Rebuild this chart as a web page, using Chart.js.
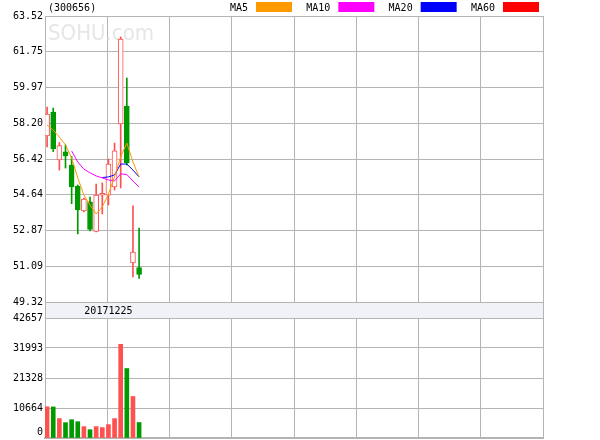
<!DOCTYPE html>
<html>
<head>
<meta charset="utf-8">
<script src="https://cdn.jsdelivr.net/npm/chart.js@4.4.0/dist/chart.umd.min.js"></script>
<style>
  html, body { margin: 0; padding: 0; background: #fff; }
</style>
</head>
<body>
<canvas id="kline" width="600" height="440"></canvas>
<script>
// ---- data ----
const stockCode = '(300656)';
const bandDate = '20171225';
const bandIndex = 10;

const openP  = [57.56, 58.75, 56.37, 56.77, 56.12, 55.08, 53.84, 54.29, 52.82, 54.63, 54.63, 55.03, 58.16, 59.05, 51.26, 51.03];
const highP  = [59.00, 58.95, 57.24, 57.12, 56.55, 55.13, 54.48, 54.53, 55.18, 55.23, 56.42, 57.21, 62.48, 60.44, 54.10, 52.99];
const lowP   = [57.02, 56.79, 55.87, 55.97, 54.20, 52.70, 53.79, 52.85, 52.80, 53.69, 54.14, 54.88, 54.98, 56.12, 50.56, 50.49];
const closeP = [58.65, 56.92, 57.09, 56.57, 55.03, 53.89, 54.43, 52.92, 54.63, 54.71, 56.17, 56.82, 62.38, 56.22, 51.80, 50.69];
const volume = [11100, 11050, 6900, 5450, 6500, 5800, 4050, 2950, 4050, 3700, 4750, 6900, 33300, 24700, 14750, 5500];

const ma5  = [58.10, 57.85, 57.51, 57.12, 56.47, 55.48, 54.63, 54.14, 53.69, 54.04, 54.68, 55.53, 56.52, 57.21, 56.27, 55.53];
const ma10 = [null, null, null, null, 56.82, 56.27, 55.92, 55.73, 55.58, 55.48, 55.38, 55.33, 55.68, 55.65, 55.33, 55.03];
const ma20 = [null, null, null, null, null, null, null, null, null, 55.50, 55.53, 55.63, 56.17, 56.17, 55.87, 55.53];
const ma60 = [null, null, null, null, null, null, null, null, null, null, null, null, null, null, null, null];

const maNames  = ['MA5', 'MA10', 'MA20', 'MA60'];
const maColors = ['#ff9900', '#ff00ff', '#0000ff', '#ff0000'];

const priceTicks = [49.32, 51.09, 52.87, 54.64, 56.42, 58.20, 59.97, 61.75, 63.52];
const volTicks   = [0, 10664, 21328, 31993, 42657];

// ---- styling ----
const gridColor = '#b4b4b4';
const upColor = '#ff5050';
const downColor = '#009900';
const monoFont = '"DejaVu Sans Mono", monospace';

Chart.defaults.font.family = monoFont;
Chart.defaults.font.size = 10;
Chart.defaults.color = '#000';

const isUp = openP.map((o, i) => closeP[i] >= o);
const xMin = -0.342, xMax = 80.86;

// y axes: fixed width, no extra room for half labels
const fitY = s => { s.width = 45; s.paddingTop = 0; s.paddingBottom = 0; };

const decor = {
  id: 'decor',
  beforeDatasetsDraw(chart) {
    const { ctx, chartArea, scales } = chart;
    const band = scales.yBand;
    ctx.save();
    // watermark
    ctx.save();
    ctx.fillStyle = '#e6e6e6';
    ctx.font = '22px "DejaVu Sans"';
    ctx.textBaseline = 'middle';
    ctx.translate(48, 34);
    ctx.scale(0.9, 1);
    ctx.fillText('SOHU.com', 0, 0);
    ctx.restore();
    // date band
    ctx.fillStyle = '#f0f2f7';
    ctx.fillRect(chartArea.left, band.top, chartArea.width, band.bottom - band.top);
    ctx.strokeStyle = gridColor;
    ctx.lineWidth = 1;
    ctx.strokeRect(chartArea.left + 0.5, band.top + 0.5, chartArea.width, band.bottom - band.top);
    ctx.fillStyle = '#000';
    ctx.font = '10px ' + monoFont;
    ctx.textAlign = 'center';
    ctx.textBaseline = 'middle';
    ctx.fillText(bandDate, scales.x.getPixelForValue(bandIndex), (band.top + band.bottom) / 2 + 1);
    ctx.restore();
  },
  afterDraw(chart) {
    const { ctx } = chart;
    ctx.save();
    ctx.font = '10px ' + monoFont;
    ctx.fillStyle = '#000';
    ctx.textBaseline = 'middle';
    ctx.fillText(stockCode, 48, 8);
    maNames.forEach((name, k) => {
      const sx = 256 + 82.33 * k;
      ctx.fillStyle = '#000';
      ctx.textAlign = 'right';
      ctx.fillText(name, sx - 8, 8);
      ctx.fillStyle = maColors[k];
      ctx.fillRect(sx, 2, 36, 10);
    });
    ctx.restore();
  }
};

const idx = openP.map((_, i) => i);

new Chart(document.getElementById('kline'), {
  type: 'bar',
  data: {
    datasets: [
      ...[ma5, ma10, ma20, ma60].map((arr, k) => ({
        type: 'line',
        label: maNames[k],
        data: idx.map(i => ({ x: i, y: arr[i] })),
        borderColor: maColors[k],
        borderWidth: 1,
        pointRadius: 0,
        tension: 0,
        xAxisID: 'x', yAxisID: 'y',
        order: 0
      })),
      {
        label: 'body',
        data: idx.map(i => ({ x: i, y: [openP[i], closeP[i]] })),
        backgroundColor: isUp.map(u => u ? '#ffffff' : downColor),
        borderColor: isUp.map(u => u ? upColor : downColor),
        borderWidth: 1,
        borderSkipped: false,
        barThickness: 5,
        grouped: false,
        xAxisID: 'x', yAxisID: 'y',
        order: 1
      },
      {
        label: 'wick',
        data: idx.map(i => ({ x: i, y: [lowP[i], highP[i]] })),
        backgroundColor: isUp.map(u => u ? upColor : downColor),
        borderWidth: 0,
        barThickness: 1,
        grouped: false,
        xAxisID: 'x', yAxisID: 'y',
        order: 2
      },
      {
        label: 'volume',
        data: idx.map(i => ({ x: i, y: volume[i] })),
        backgroundColor: isUp.map(u => u ? upColor : downColor),
        borderWidth: 0,
        barThickness: 4,
        grouped: false,
        xAxisID: 'x', yAxisID: 'yVol',
        order: 3
      }
    ]
  },
  options: {
    responsive: false,
    animation: false,
    layout: { padding: { top: 16, right: 57, bottom: 2, left: 0 } },
    plugins: { legend: { display: false }, tooltip: { enabled: false } },
    scales: {
      x: {
        type: 'linear', min: xMin, max: xMax, offset: false,
        afterBuildTicks: s => { s.ticks = [0, 1, 2, 3, 4, 5, 6, 7, 8].map(k => ({ value: xMin + k * (xMax - xMin) / 8 })); },
        afterFit: s => { s.height = 0; s.paddingLeft = 0; s.paddingRight = 0; },
        grid: { color: gridColor, drawTicks: false, offset: false },
        border: { color: gridColor, width: 2 },
        ticks: { display: false }
      },
      yVol: {
        type: 'linear', position: 'left', stack: 'main', stackWeight: 120,
        min: 0, max: volTicks[volTicks.length - 1],
        afterBuildTicks: s => { s.ticks = volTicks.map(v => ({ value: v })); },
        afterFit: fitY,
        grid: { color: gridColor, drawTicks: false },
        border: { color: gridColor },
        ticks: { padding: 2, autoSkip: false, callback: v => v === 0 ? ['0', ''] : String(v) }
      },
      yBand: {
        type: 'linear', position: 'left', stack: 'main', stackWeight: 16,
        min: 0, max: 1,
        afterFit: fitY,
        grid: { display: false },
        border: { color: gridColor },
        ticks: { display: false }
      },
      y: {
        type: 'linear', position: 'left', stack: 'main', stackWeight: 286,
        min: priceTicks[0], max: priceTicks[priceTicks.length - 1],
        afterBuildTicks: s => { s.ticks = priceTicks.map(v => ({ value: v })); },
        afterFit: fitY,
        grid: { color: gridColor, drawTicks: false },
        border: { color: gridColor },
        ticks: { padding: 2, autoSkip: false, callback: v => v.toFixed(2) }
      }
    }
  },
  plugins: [decor]
});
</script>
</body>
</html>
